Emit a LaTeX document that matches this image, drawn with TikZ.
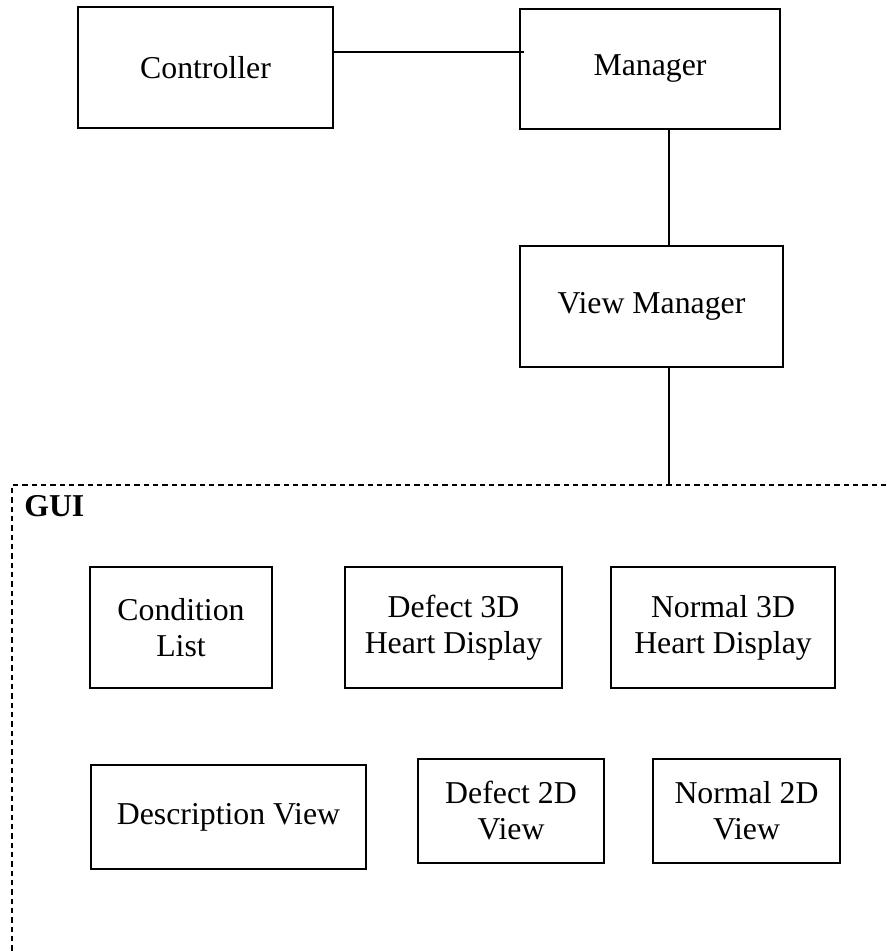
\documentclass[tikz,border=0pt]{standalone}
\usepackage{fontspec}
\setmainfont{Liberation Serif}
\begin{document}
\begin{tikzpicture}[x=0.75pt,y=-0.75pt,
  box/.style={draw,line width=1pt,rectangle,inner sep=0pt,outer sep=0pt,align=center,
    font=\fontsize{23.85pt}{27pt}\selectfont},
  link/.style={line width=1pt},
  frame/.style={line width=1.3pt,dash pattern=on 4pt off 3pt}]
\useasboundingbox (0,0) rectangle (887,952);
% top components
\node[box,minimum width=255*0.75pt,minimum height=121*0.75pt] (ctrl) at (205.5,67.5) {Controller};
\node[box,minimum width=260*0.75pt,minimum height=120*0.75pt] (mgr) at (650,69) {Manager};
\node[box,minimum width=263*0.75pt,minimum height=121*0.75pt] (vm) at (651.5,306.5) {View Manager};
% GUI frame
\coordinate (guitop) at (669,485);
\draw[frame] (12,960) -- (12,485) -- (900,485);
\node[anchor=base west,inner sep=0pt,font=\fontsize{23.85pt}{27pt}\selectfont\bfseries] (gui) at (24,516) {GUI};
% GUI components
\node[box,minimum width=182*0.75pt,minimum height=121*0.75pt] (cond) at (181,627.5) {Condition\\List};
\node[box,minimum width=217*0.75pt,minimum height=121*0.75pt] (d3d) at (453.5,627.5) {Defect 3D\\Heart Display};
\node[box,minimum width=224*0.75pt,minimum height=121*0.75pt] (n3d) at (723,627.5) {Normal 3D\\Heart Display};
\node[box,minimum width=275*0.75pt,minimum height=104*0.75pt] (desc) at (228.5,817) {Description View};
\node[box,minimum width=186*0.75pt,minimum height=104*0.75pt] (d2d) at (511,811) {Defect 2D\\View};
\node[box,minimum width=187*0.75pt,minimum height=104*0.75pt] (n2d) at (746.5,811) {Normal 2D\\View};
% connectors
\draw[link] (ctrl.east |- 0,52) -- ([xshift=3pt]mgr.west |- 0,52);
\draw[link] (mgr.south -| 669,0) -- (vm.north -| 669,0);
\draw[link] (vm.south -| 669,0) -- (guitop);
\end{tikzpicture}
\end{document}
